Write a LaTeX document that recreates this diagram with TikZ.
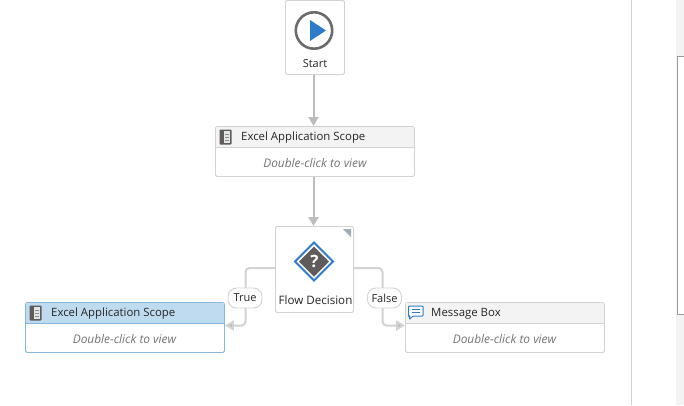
\documentclass[tikz,border=0pt]{standalone}
\usepackage{fontspec}
\setmainfont{Open Sans}
\usetikzlibrary{arrows.meta,calc}
\definecolor{edgeC}{HTML}{D2D2D2}
\definecolor{flowC}{HTML}{BDBDBD}
\definecolor{headC}{HTML}{F3F3F3}
\definecolor{selC}{HTML}{BEDBEF}
\definecolor{selB}{HTML}{85B8DA}
\definecolor{blueC}{HTML}{2E7BCB}
\definecolor{darkC}{HTML}{5F5B5B}
\definecolor{panelC}{HTML}{F3F3F3}
\definecolor{cornerC}{HTML}{A3ACB8}
\tikzset{
 x=1pt,y=-1pt,
 card/.style={draw=edgeC,fill=white,line width=0.9pt,rounded corners=1.5pt,inner sep=0pt,anchor=north west},
 activity/.style={card,minimum width=199pt,minimum height=50pt},
 title/.style={font=\fontsize{11.4}{13}\selectfont,text=black!85,anchor=west,inner sep=0pt},
 hint/.style={font=\fontsize{11.9}{13}\selectfont\itshape,text=black!55,inner sep=0pt},
 flow/.style={draw=flowC,line width=2pt,rounded corners=4pt,-{Triangle[length=9pt,width=10pt,fill=flowC]}},
 side/.style={draw=edgeC,fill=white,line width=0.9pt,rounded corners=8.5pt,inner sep=0pt,minimum width=34pt,minimum height=20pt,font=\fontsize{11}{13}\selectfont,text=black!85},
 booky/.style={fill=darkC,rounded corners=0.8pt},
}
\newcommand{\bookicon}[2]{%
 \fill[booky] (#1,#2) rectangle ++(12,15);
 \fill[white!90!black] (#1+4,#2+1.5) rectangle ++(6.5,12);
 \draw[black!45,line width=0.5pt] (#1+5.5,#2+5) -- ++(3.5,0) (#1+5.5,#2+8) -- ++(3.5,0) (#1+5.5,#2+11) -- ++(3.5,0);
}
\begin{document}
\begin{tikzpicture}
\useasboundingbox (0,0) rectangle (684,405);
\fill[white] (0,0) rectangle (684,405);
% side panel
\draw[edgeC,line width=1pt] (631.5,0) -- (631.5,405);
\fill[panelC] (676,0) rectangle (684,405);
\fill[white] (677,56) rectangle (684,315);
\draw[black!40,line width=0.9pt] (684,56.5) -- (677.5,56.5) -- (677.5,314.5) -- (684,314.5);
\begin{scope}[xshift=-0.5pt,yshift=0.5pt]
% start
\node[card,minimum width=59pt,minimum height=74pt] (start) at (285.5,0.5) {};
\coordinate (playc) at (314.5,31);
\draw[black!58,line width=2.6pt,fill=white] (playc) circle (18.2);
\fill[blueC] (310.5,20.5) -- (326.5,31) -- (310.5,41.5) -- cycle;
\node[font=\fontsize{11}{13}\selectfont,text=black!85,inner sep=0pt] (starttext) at (315.5,64) {Start};
% scope 1
\node[activity] (scopeA) at (215.5,126.5) {};
\fill[headC] (216,127) rectangle (414,147);
\draw[edgeC,line width=0.9pt] (215.5,147.5) -- (414.5,147.5);
\bookicon{220}{130}
\node[title] (scopeAtitle) at (241.5,138) {Excel Application Scope};
\node[hint] (scopeAhint) at (315.5,164) {Double-click to view};
% decision
\node[card,minimum width=78pt,minimum height=86pt] (decision) at (275.5,226.5) {};
\fill[cornerC] (343.5,229.5) -- (351.5,229.5) -- (351.5,237.5) -- cycle;
\draw[blueC,line width=2pt,fill=white] (314.5,243) -- (333.5,262) -- (314.5,281) -- (295.5,262) -- cycle;
\fill[darkC] (314.5,247) -- (329.5,262) -- (314.5,277) -- (299.5,262) -- cycle;
\node[font=\bfseries\fontsize{17}{17}\selectfont,text=white,inner sep=0pt] (qmark) at (315,262) {?};
\node[font=\fontsize{11.6}{13}\selectfont,text=black!85,inner sep=0pt] (dectext) at (316,301) {Flow Decision};
% scope 2
\node[activity,draw=selB] (scopeB) at (25.5,302.5) {};
\fill[selC] (26,303) rectangle (224,323);
\draw[selB,line width=0.9pt] (25.5,323.5) -- (224.5,323.5);
\bookicon{30}{306}
\node[title] (scopeBtitle) at (51.5,314) {Excel Application Scope};
\node[hint] (scopeBhint) at (125,340) {Double-click to view};
% message box
\node[activity] (msg) at (405.5,302.5) {};
\fill[headC] (406,303) rectangle (604,323);
\draw[edgeC,line width=0.9pt] (405.5,323.5) -- (604.5,323.5);
\draw[blueC,line width=1pt,fill=white,rounded corners=0.8pt] (409,306.5) -- (423.5,306.5) -- (423.5,316.5) -- (413.5,316.5) -- (410,320) -- (410,316.5) -- (409,316.5) -- cycle;
\draw[blueC,line width=1pt] (412,310) -- (420.5,310) (412,313) -- (420.5,313);
\node[title] (msgtitle) at (431.5,314) {Message Box};
\node[hint] (msghint) at (505,340) {Double-click to view};
% flows
\draw[flow] (start.south -| 314,75) -- (scopeA.north -| 314,126);
\draw[flow] (scopeA.south -| 314,177) -- (decision.north -| 314,226);
\coordinate (dl) at (decision.west |- 0,268.5);
\coordinate (dr) at (decision.east |- 0,268.5);
\coordinate (tl) at (scopeB.east |- 0,326);
\coordinate (fr) at (msg.west |- 0,326);
\draw[flow,draw=edgeC] (dl) -- (246,268.5) -- (246,326) -- (tl);
\draw[flow,draw=edgeC] (dr) -- (383,268.5) -- (383,326) -- (fr);
\node[side] (truelabel) at (245.5,298.5) {True};
\node[side] (falselabel) at (385,298.5) {False};
\end{scope}
\end{tikzpicture}
\end{document}
